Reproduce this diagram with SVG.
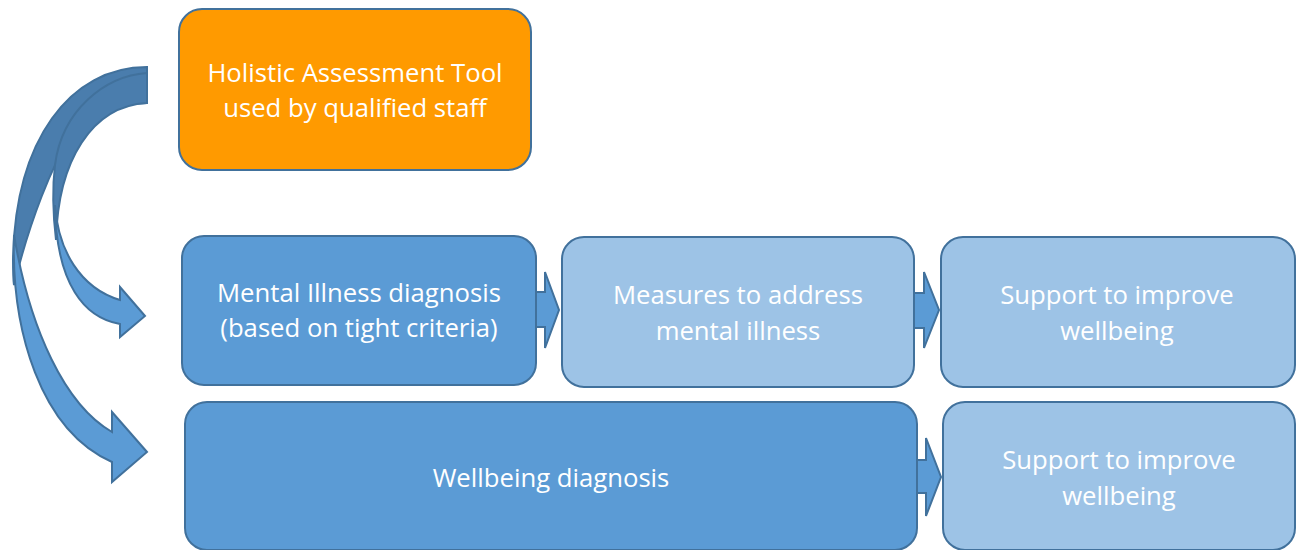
<svg xmlns="http://www.w3.org/2000/svg" width="1302" height="550" viewBox="0 0 1302 550">
  <style>
    .box { stroke: #41719C; stroke-width: 2; }
    .orange { fill: #FF9A00; }
    .mid { fill: #5B9BD5; }
    .light { fill: #9DC3E6; }
    .lbl { font-family: "Open Sans", "Liberation Sans", sans-serif; font-size: 25.7px; fill: #FFFFFF; text-anchor: middle; }
    .arrow { fill: #5B9BD5; stroke: #41719C; stroke-width: 2; stroke-linejoin: miter; }
    .back { fill: #4A7DAD; stroke: #41719C; stroke-width: 2; }
  </style>

  <!-- Curved arrows from the assessment tool -->
  <g id="connectors">
    <!-- outer curved arrow (to Wellbeing diagnosis): back band -->
    <path class="back" d="M147,67 C70,67 15,140 13,260 C13,270 13,278 14,285 C30,220 52,165 72,134 C92,112 120,103 147,103 Z"/>
    <!-- inner curved arrow (to Mental Illness diagnosis): back band -->
    <path class="back" d="M147,73 C105,76 62,110 55,165 C52,190 53,215 56,240 C58,160 92,106 147,103 Z"/>
    <!-- outer curved arrow: front band and head -->
    <path class="arrow" d="M14,235 C11,330 40,430 112,462 L112,482 L147,452 L112,412 L112,432 C65,405 30,330 14,235 Z"/>
    <!-- inner curved arrow: front band and head -->
    <path class="arrow" d="M55,205 C58,250 80,288 120,300 L120,287 L145,316 L120,337 L120,324 C85,318 56,285 55,205 Z"/>

    <!-- straight block arrows between boxes -->
    <path class="arrow" d="M535,292 L545,292 L545,272 L559,310 L545,348 L545,327 L535,327 Z"/>
    <path class="arrow" d="M913,293 L924,293 L924,272 L939,310 L924,348 L924,328 L913,328 Z"/>
    <path class="arrow" d="M916,460 L926,460 L926,438 L941,477 L926,516 L926,493 L916,493 Z"/>
  </g>

  <g id="node-assessment">
    <rect class="box orange" x="179" y="9" width="352" height="161" rx="23"/>
    <text class="lbl" x="355" y="82">Holistic Assessment Tool</text>
    <text class="lbl" x="355" y="117">used by qualified staff</text>
  </g>

  <g id="node-mental-illness">
    <rect class="box mid" x="182" y="236" width="354" height="149" rx="22"/>
    <text class="lbl" x="359" y="302">Mental Illness diagnosis</text>
    <text class="lbl" x="359" y="337">(based on tight criteria)</text>
  </g>

  <g id="node-measures">
    <rect class="box light" x="562" y="237" width="352" height="150" rx="22"/>
    <text class="lbl" x="738" y="304">Measures to address</text>
    <text class="lbl" x="738" y="340">mental illness</text>
  </g>

  <g id="node-support-1">
    <rect class="box light" x="941" y="237" width="354" height="150" rx="22"/>
    <text class="lbl" x="1117" y="304">Support to improve</text>
    <text class="lbl" x="1117" y="340">wellbeing</text>
  </g>

  <g id="node-wellbeing">
    <rect class="box mid" x="185" y="402" width="732" height="148" rx="22"/>
    <text class="lbl" x="551" y="487">Wellbeing diagnosis</text>
  </g>

  <g id="node-support-2">
    <rect class="box light" x="943" y="402" width="352" height="148" rx="22"/>
    <text class="lbl" x="1119" y="469">Support to improve</text>
    <text class="lbl" x="1119" y="505">wellbeing</text>
  </g>
</svg>
